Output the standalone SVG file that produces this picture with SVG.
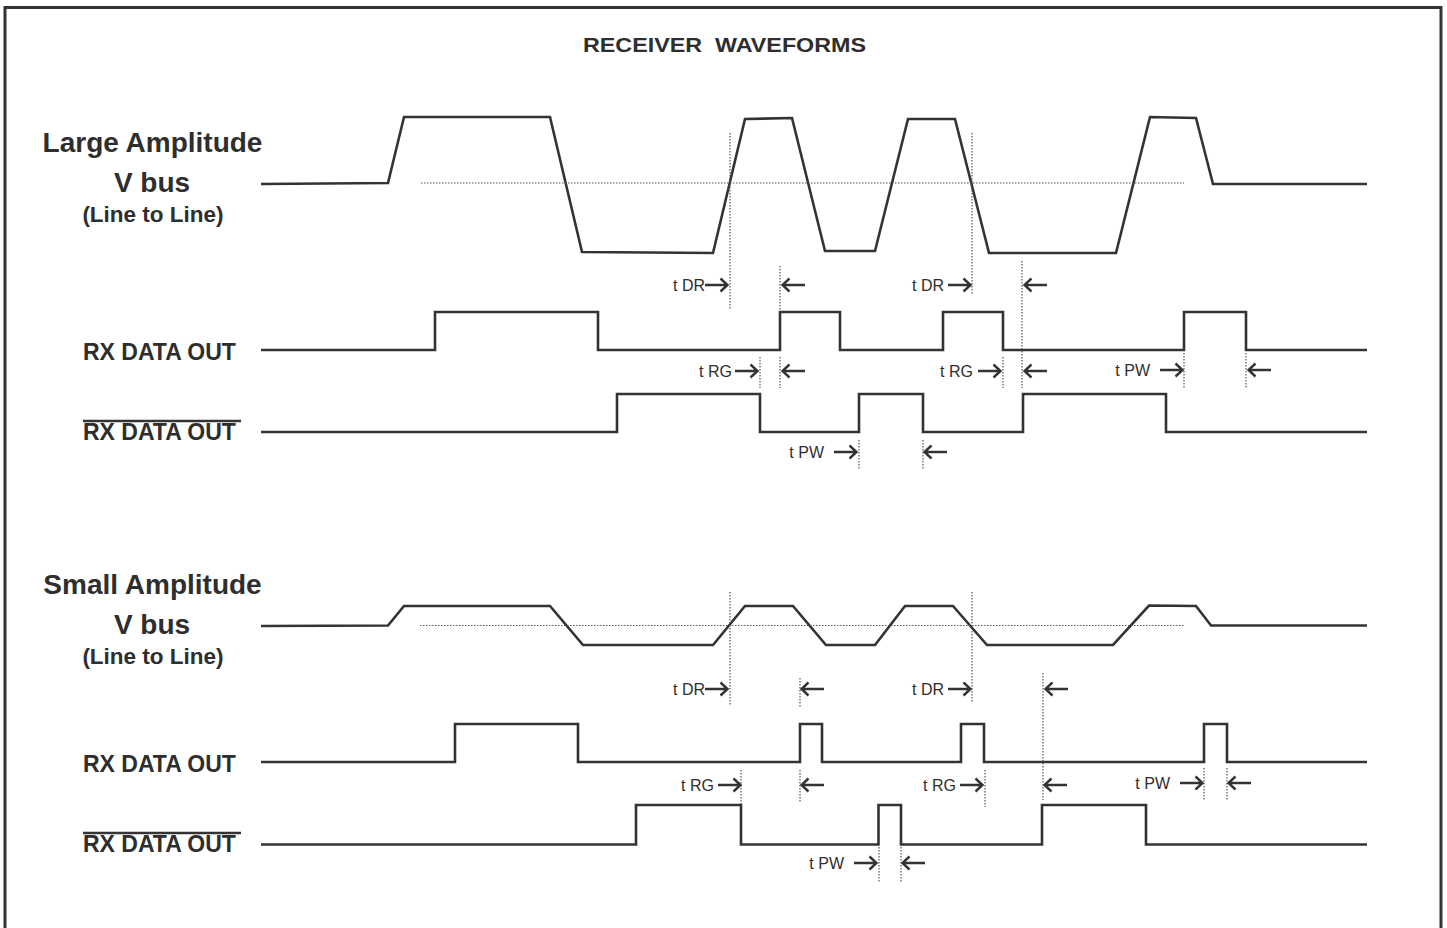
<svg xmlns="http://www.w3.org/2000/svg" xmlns:xlink="http://www.w3.org/1999/xlink" width="1447" height="928" viewBox="0 0 1447 928">
<style>
.wave{fill:none;stroke:#333;stroke-width:2.6;stroke-linejoin:miter}
.dot{fill:none;stroke:#555;stroke-width:1.2;stroke-dasharray:1.5 1.5}
.arr{fill:none;stroke:#333;stroke-width:2.4;stroke-linejoin:miter;stroke-linecap:butt}
.frame{fill:none;stroke:#333;stroke-width:3}
text{font-family:"Liberation Sans",Arial,sans-serif;fill:#2e2e2e}
.title{font-size:20px;font-weight:bold}
.big{font-size:28px;font-weight:bold}
.mid{font-size:22.5px;font-weight:bold}
.sig{font-size:23px;font-weight:bold}
.t{font-size:16px}
.ovl{stroke:#333;stroke-width:2.6}
</style>
<defs>
<path id="ar" class="arr" d="M-24,0 H-1.5 M-8.5,-6.5 L-1.5,0 L-8.5,6.5"/>
<path id="al" class="arr" d="M24,0 H1.5 M8.5,-6.5 L1.5,0 L8.5,6.5"/>
</defs>
<rect width="1447" height="928" fill="#fff"/>
<path class="frame" d="M5,940 V7.5 H1441 V940"/>

<g id="title"><text class="title" x="583" y="52" textLength="283" lengthAdjust="spacingAndGlyphs" xml:space="preserve">RECEIVER  WAVEFORMS</text></g>

<g id="large-labels">
<text class="big" x="152.5" y="152" text-anchor="middle">Large Amplitude</text>
<text class="big" x="152" y="191.5" text-anchor="middle">V bus</text>
<text class="mid" x="153" y="221.5" text-anchor="middle">(Line to Line)</text>
<text class="sig" x="83" y="359.5">RX DATA OUT</text>
<text class="sig" x="83" y="440">RX DATA OUT</text>
<line class="ovl" x1="83" y1="421" x2="241" y2="421"/>
</g>

<g id="small-labels">
<text class="big" x="152.5" y="594" text-anchor="middle">Small Amplitude</text>
<text class="big" x="152" y="633.5" text-anchor="middle">V bus</text>
<text class="mid" x="153" y="663.5" text-anchor="middle">(Line to Line)</text>
<text class="sig" x="83" y="771.5">RX DATA OUT</text>
<text class="sig" x="83" y="852">RX DATA OUT</text>
<line class="ovl" x1="83" y1="833" x2="241" y2="833"/>
</g>

<g id="large-vbus"><polyline class="wave" points="261,184 388,183 404,117 550,117 582,252 713,253 745,119 792,118 825,251 875,251 908,119 955,119 989,253 1116,253 1150,117 1196,118 1213,184 1367,184"/></g>
<g id="large-rx"><polyline class="wave" points="261,350 435,350 435,312 598,312 598,350 780,350 780,312 840,312 840,350 943,350 943,312 1003,312 1003,350 1184,350 1184,312 1246,312 1246,350 1367,350"/></g>
<g id="large-rxbar"><polyline class="wave" points="261,432 617,432 617,394 760,394 760,432 859,432 859,394 923,394 923,432 1023,432 1023,394 1166,394 1166,432 1367,432"/></g>

<g id="small-vbus"><polyline class="wave" points="261,626 388,625.5 404,606 550,606 583,645 713,645 745,606 793,606 826,645 875,645 905,606 953,606 987,645 1113,645 1149,605.5 1196,606 1211,625.5 1367,625.5"/></g>
<g id="small-rx"><polyline class="wave" points="261,762 455,762 455,724 578,724 578,762 800,762 800,724 822,724 822,762 961,762 961,724 984,724 984,762 1204,762 1204,724 1227,724 1227,762 1367,762"/></g>
<g id="small-rxbar"><polyline class="wave" points="261,844.5 636,844.5 636,805 741,805 741,844.5 878.5,844.5 878.5,805 901,805 901,844.5 1042,844.5 1042,805 1146,805 1146,844.5 1367,844.5"/></g>

<g id="connectors">
<line class="dot" x1="421" y1="183" x2="1184" y2="183"/>
<line class="dot" x1="730" y1="133" x2="730" y2="310"/>
<line class="dot" x1="780" y1="266" x2="780" y2="312"/>
<line class="dot" x1="760" y1="357" x2="760" y2="388"/>
<line class="dot" x1="780" y1="357" x2="780" y2="388"/>
<line class="dot" x1="972" y1="133" x2="972" y2="295"/>
<line class="dot" x1="1022" y1="261" x2="1022" y2="388"/>
<line class="dot" x1="1003" y1="357" x2="1003" y2="388"/>
<line class="dot" x1="1184" y1="353" x2="1184" y2="388"/>
<line class="dot" x1="1246" y1="353" x2="1246" y2="388"/>
<line class="dot" x1="859" y1="440" x2="859" y2="470"/>
<line class="dot" x1="923" y1="440" x2="923" y2="470"/>

<line class="dot" x1="420" y1="625.5" x2="1185" y2="625.5"/>
<line class="dot" x1="730" y1="592" x2="730" y2="705"/>
<line class="dot" x1="800" y1="678" x2="800" y2="707"/>
<line class="dot" x1="800" y1="770" x2="800" y2="802"/>
<line class="dot" x1="741" y1="770" x2="741" y2="805"/>
<line class="dot" x1="972" y1="592" x2="972" y2="703"/>
<line class="dot" x1="1043" y1="673" x2="1043" y2="800"/>
<line class="dot" x1="985" y1="770" x2="985" y2="807"/>
<line class="dot" x1="1204" y1="768" x2="1204" y2="800"/>
<line class="dot" x1="1227" y1="768" x2="1227" y2="800"/>
<line class="dot" x1="879" y1="847" x2="879" y2="882"/>
<line class="dot" x1="901" y1="847" x2="901" y2="882"/>

<use xlink:href="#ar" x="729" y="285"/><use xlink:href="#al" x="781" y="285"/>
<use xlink:href="#ar" x="972" y="285"/><use xlink:href="#al" x="1023" y="285"/>
<use xlink:href="#ar" x="759" y="371"/><use xlink:href="#al" x="781" y="371"/>
<use xlink:href="#ar" x="1002" y="371"/><use xlink:href="#al" x="1023" y="371"/>
<use xlink:href="#ar" x="1184" y="370"/><use xlink:href="#al" x="1247" y="370"/>
<use xlink:href="#ar" x="858" y="452"/><use xlink:href="#al" x="923" y="452"/>

<use xlink:href="#ar" x="729" y="689"/><use xlink:href="#al" x="800" y="689"/>
<use xlink:href="#ar" x="972" y="689"/><use xlink:href="#al" x="1044" y="689"/>
<use xlink:href="#ar" x="742" y="785"/><use xlink:href="#al" x="800" y="785"/>
<use xlink:href="#ar" x="984" y="785"/><use xlink:href="#al" x="1043" y="785"/>
<use xlink:href="#ar" x="1204" y="783"/><use xlink:href="#al" x="1227" y="783"/>
<use xlink:href="#ar" x="878" y="863"/><use xlink:href="#al" x="901" y="863"/>
</g>

<g id="timing-labels">
<text class="t" x="705" y="291" text-anchor="end">t DR</text>
<text class="t" x="944" y="291" text-anchor="end">t DR</text>
<text class="t" x="732" y="377" text-anchor="end">t RG</text>
<text class="t" x="973" y="377" text-anchor="end">t RG</text>
<text class="t" x="1150" y="376" text-anchor="end">t PW</text>
<text class="t" x="824" y="458" text-anchor="end">t PW</text>

<text class="t" x="705" y="695" text-anchor="end">t DR</text>
<text class="t" x="944" y="695" text-anchor="end">t DR</text>
<text class="t" x="714" y="791" text-anchor="end">t RG</text>
<text class="t" x="956" y="791" text-anchor="end">t RG</text>
<text class="t" x="1170" y="789" text-anchor="end">t PW</text>
<text class="t" x="844" y="869" text-anchor="end">t PW</text>
</g>
</svg>
